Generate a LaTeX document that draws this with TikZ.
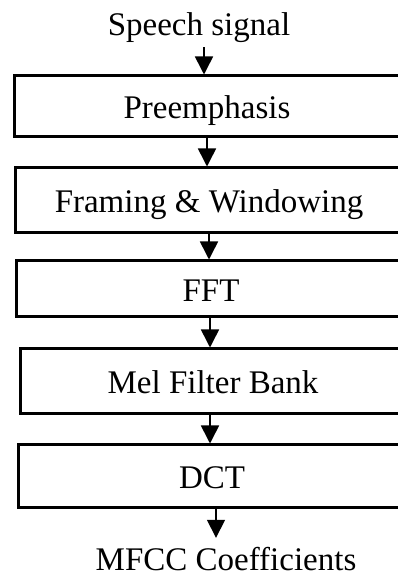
\documentclass[tikz,border=0pt]{standalone}
\usepackage{fontspec}
\setmainfont{Liberation Serif}
\usetikzlibrary{arrows.meta}
\begin{document}
\begin{tikzpicture}[x=1pt,y=1pt,
  every node/.style={font=\fontsize{33}{38}\selectfont, inner sep=0pt},
  stage/.style={draw=black, line width=3pt, fill=white},
  caption/.style={text height=27pt, text depth=2pt},
  flow/.style={line width=1.6pt, -{Triangle[width=18pt,length=18pt]}}]
  \useasboundingbox (0,0) rectangle (398,575);

  % input and output labels
  \node[anchor=base, text depth=11pt] (in) at (199,539) {Speech signal};
  \node[anchor=base, text height=32pt] (out) at (226,5) {MFCC Coefficients};

  % processing stages (boxes run past the right margin)
  \node[stage, minimum width=406pt, minimum height=61pt] (b1) at (217,468.5) {};
  \node[stage, minimum width=408pt, minimum height=65pt] (b2) at (219,374.5) {};
  \node[stage, minimum width=408pt, minimum height=56pt] (b3) at (220,286) {};
  \node[stage, minimum width=400pt, minimum height=65pt] (b4) at (220,193.5) {};
  \node[stage, minimum width=406pt, minimum height=63pt] (b5) at (221,98.5) {};

  % stage names
  \node[caption] (t1) at ([xshift=-10pt]b1.center) {Preemphasis};
  \node[caption] (t2) at ([xshift=-10pt]b2.center) {Framing \& Windowing};
  \node[caption] (t3) at ([xshift=-9pt]b3.center) {FFT};
  \node[caption] (t4) at ([xshift=-7pt]b4.center) {Mel Filter Bank};
  \node[caption] (t5) at ([xshift=-9pt]b5.center) {DCT};

  % connectors
  \draw[flow] ([xshift=5pt]in.south) -- ([xshift=5pt]in.south |- b1.north);
  \draw[flow] ([xshift=-10pt]b1.south) -- ([xshift=-10pt]b1.south |- b2.north);
  \draw[flow] ([xshift=-10pt]b2.south) -- ([xshift=-10pt]b2.south |- b3.north);
  \draw[flow] ([xshift=-10pt]b3.south) -- ([xshift=-10pt]b3.south |- b4.north);
  \draw[flow] ([xshift=-10pt]b4.south) -- ([xshift=-10pt]b4.south |- b5.north);
  \draw[flow] ([xshift=-5pt]b5.south) -- ([xshift=-5pt]b5.south |- out.north);
\end{tikzpicture}
\end{document}
